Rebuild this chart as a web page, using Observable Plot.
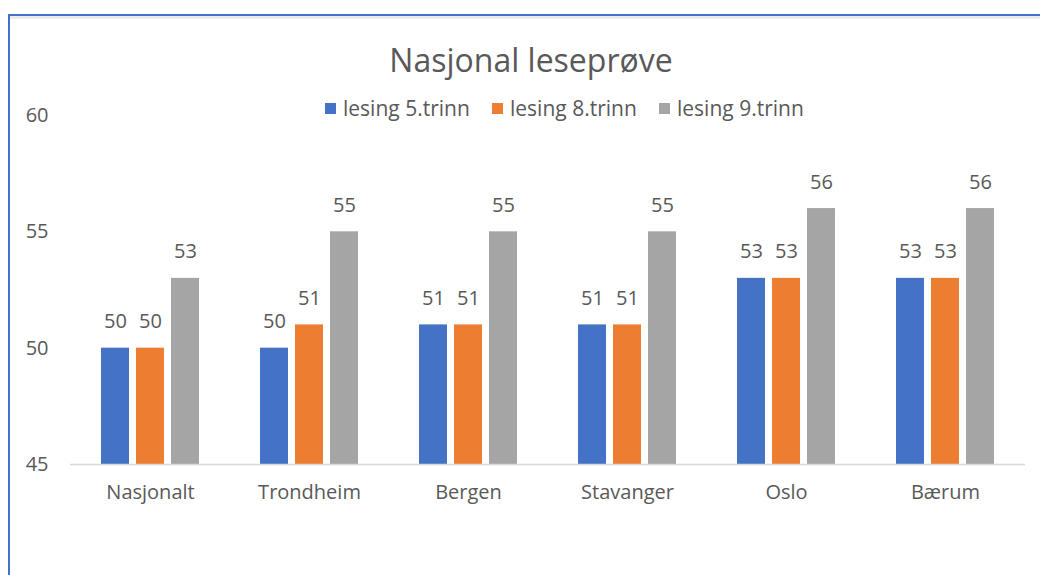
<!DOCTYPE html>
<html>
<head>
<meta charset="utf-8">
<script src="https://cdn.jsdelivr.net/npm/d3@7"></script>
<script src="https://cdn.jsdelivr.net/npm/@observablehq/plot@0.6"></script>
<style>
  html, body { margin: 0; padding: 0; background: #fff; }
  body { width: 1040px; height: 575px; position: relative; overflow: hidden; font-family: "Open Sans", sans-serif; }
  #frame { position: absolute; left: 8px; top: 14px; right: -4px; bottom: -4px; border-top: 2px solid #4472C4; border-left: 2px solid #4472C4; }
  #band { position: absolute; left: 10px; top: 16px; right: 0; height: 3px; background: #ececec; }
  #chart { position: absolute; left: 0; top: 0; }
  #title { position: absolute; top: 38px; left: 0; width: 1062px; text-align: center; font-size: 32px; color: #595959; }
  #legend { position: absolute; top: 94px; left: 325px; display: flex; font-size: 21px; color: #595959; }
  #legend .item { width: 167px; display: flex; align-items: center; }
  #legend .sw { width: 11px; height: 11px; margin-right: 7px; }
</style>
</head>
<body>
<div id="frame"></div>
<div id="band"></div>
<div id="chart"></div>
<div id="title">Nasjonal leseprøve</div>
<div id="legend"></div>
<script>
const categories = ["Nasjonalt", "Trondheim", "Bergen", "Stavanger", "Oslo", "Bærum"];
const seriesNames = ["lesing 5.trinn", "lesing 8.trinn", "lesing 9.trinn"];
const lesing5 = [50, 50, 51, 51, 53, 53];
const lesing8 = [50, 51, 51, 51, 53, 53];
const lesing9 = [53, 55, 55, 55, 56, 56];
const colors = ["#4472C4", "#ED7D31", "#A5A5A5"];
const yTicks = [45, 50, 55, 60];

const seriesValues = [lesing5, lesing8, lesing9];
const data = [];
categories.forEach((c, i) => {
  seriesNames.forEach((s, j) => data.push({category: c, series: s, value: seriesValues[j][i]}));
});

const chart = Plot.plot({
  width: 1040,
  height: 575,
  marginLeft: 70,
  marginRight: 15,
  marginTop: 115,
  marginBottom: 111,
  style: {fontFamily: "Open Sans, sans-serif", fontSize: "20px", color: "#595959", background: "transparent"},
  fx: {domain: categories, paddingInner: 0.384, paddingOuter: 0.195, label: null, axis: "bottom", tickSize: 0, tickPadding: 20},
  x: {domain: seriesNames, paddingInner: 0.2, paddingOuter: 0, axis: null},
  y: {domain: [45, 60], ticks: yTicks, tickSize: 0, tickPadding: 53, label: null, tickFormat: d => d},
  color: {domain: seriesNames, range: colors},
  marks: [
    Plot.barY(data, {fx: "category", x: "series", y1: 45, y2: "value", fill: "series"}),
    Plot.text(data, {fx: "category", x: "series", y: "value", text: d => String(d.value), lineAnchor: "bottom", dy: -20, fill: "#595959", fontSize: 20}),
    Plot.ruleY([45], {stroke: "#d9d9d9", strokeWidth: 1.5, insetLeft: -31, insetRight: -31})
  ]
});
document.getElementById("chart").appendChild(chart);

const legend = document.getElementById("legend");
seriesNames.forEach((s, j) => {
  const item = document.createElement("div");
  item.className = "item";
  const sw = document.createElement("div");
  sw.className = "sw";
  sw.style.background = colors[j];
  const label = document.createElement("span");
  label.textContent = s;
  item.appendChild(sw);
  item.appendChild(label);
  legend.appendChild(item);
});
</script>
</body>
</html>
